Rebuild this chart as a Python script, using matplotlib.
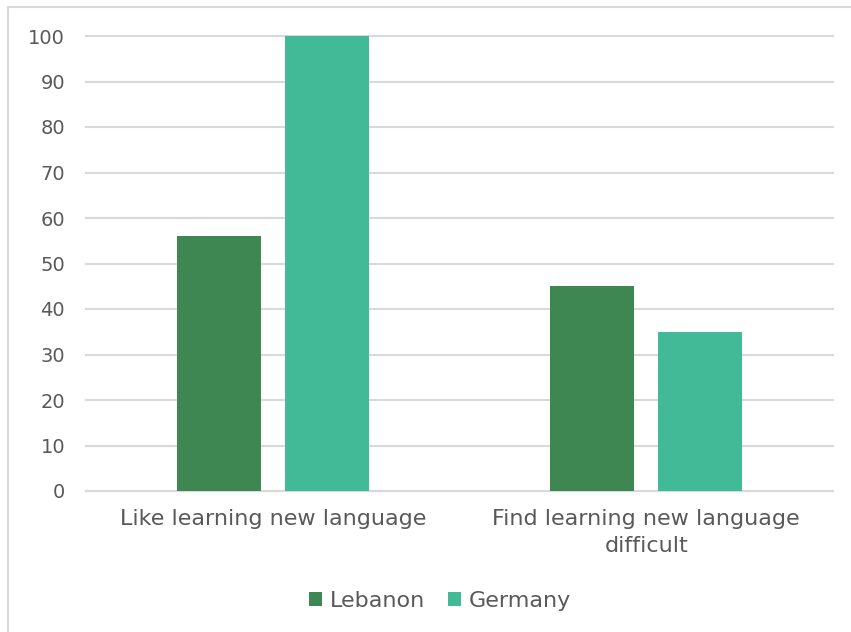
import matplotlib
matplotlib.use("Agg")
import matplotlib.pyplot as plt
import numpy as np
from matplotlib.patches import Rectangle

categories = ["Like learning new language", "Find learning new language\ndifficult"]
series_names = ["Lebanon", "Germany"]
lebanon = [56, 45]
germany = [100, 35]
colors = ["#3E8753", "#43BA97"]
text_color = "#595959"
grid_color = "#D9D9D9"

plt.rcParams["font.family"] = ["DejaVu Sans"]

W, H = 851, 632
fig = plt.figure(figsize=(W / 100, H / 100), dpi=100)
ax = fig.add_axes([86 / W, 1 - 491 / H, (833 - 86) / W, (491 - 36) / H])

x = np.arange(len(categories))
width = 0.225
offset = 0.144
for vals, name, color, sign in zip([lebanon, germany], series_names, colors, [-1, 1]):
    ax.bar(x + sign * offset, vals, width=width, color=color, label=name, zorder=3)

ax.set_xlim(-0.5, 1.5)
ax.set_ylim(0, 100)
ax.set_yticks(range(0, 101, 10))
ax.set_xticks(x)
ax.set_xticklabels(categories, fontsize=16, linespacing=1.45)
ax.tick_params(axis="both", length=0, labelcolor=text_color)
ax.tick_params(axis="y", pad=15, labelsize=14)
ax.tick_params(axis="x", pad=13)
ax.grid(axis="y", color=grid_color, linewidth=1.5, zorder=0)
for line in ax.get_ygridlines():
    line.set_clip_on(False)
for side in ["top", "right", "left"]:
    ax.spines[side].set_visible(False)
ax.spines["bottom"].set_color(grid_color)
ax.spines["bottom"].set_linewidth(1.5)

leg = fig.legend(loc="center", bbox_to_anchor=(440 / W, 1 - 601 / H), ncol=2, frameon=False,
                 fontsize=16, handlelength=0.6, handleheight=0.6, handletextpad=0.35, columnspacing=1.0)
for t in leg.get_texts():
    t.set_color(text_color)

fig.patches.append(Rectangle((8 / W, -0.1), 1.2, 1 - 7 / H + 0.1, transform=fig.transFigure,
                             fill=False, edgecolor=grid_color, linewidth=1.5))

fig.savefig("out.png", dpi=100)
